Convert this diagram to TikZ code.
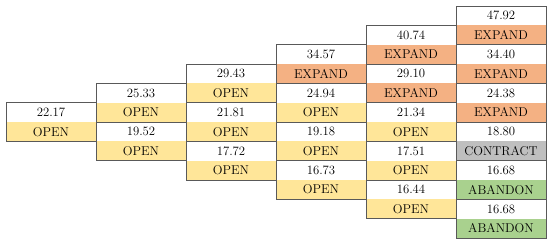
\documentclass[tikz,border=0pt]{standalone}
\usepackage{xcolor}
\usepackage{tikz}
\usetikzlibrary{positioning}

\definecolor{openyellow}{HTML}{FFE699}
\definecolor{expandorange}{HTML}{F4B183}
\definecolor{contractgrey}{HTML}{BFBFBF}
\definecolor{abandongreen}{HTML}{A9D18E}

\begin{document}
\begin{tikzpicture}[x=1bp, y=1bp,
    cell/.style={rectangle, minimum width=90bp, minimum height=19.33bp,
        inner sep=0pt, outer sep=0pt, text=black,
        font=\fontsize{12.8}{15}\selectfont},
    val/.style={cell, fill=white},
    isopen/.style={cell, fill=openyellow},
    isexpand/.style={cell, fill=expandorange},
    iscontract/.style={cell, fill=contractgrey},
    isabandon/.style={cell, fill=abandongreen},
    frame/.style={draw=black!65, line width=0.8bp}]
    \useasboundingbox (0,0) rectangle (550,-246);

    % Nút của cây: giá trị và quyết định
    \foreach \c/\i/\v/\d/\s in {
        0/0/22.17/OPEN/isopen,
        1/0/25.33/OPEN/isopen, 1/1/19.52/OPEN/isopen,
        2/0/29.43/OPEN/isopen, 2/1/21.81/OPEN/isopen, 2/2/17.72/OPEN/isopen,
        3/0/34.57/EXPAND/isexpand, 3/1/24.94/OPEN/isopen,
        3/2/19.18/OPEN/isopen, 3/3/16.73/OPEN/isopen,
        4/0/40.74/EXPAND/isexpand, 4/1/29.10/EXPAND/isexpand,
        4/2/21.34/OPEN/isopen, 4/3/17.51/OPEN/isopen, 4/4/16.44/OPEN/isopen,
        5/0/47.92/EXPAND/isexpand, 5/1/34.40/EXPAND/isexpand,
        5/2/24.38/EXPAND/isexpand, 5/3/18.80/CONTRACT/iscontract,
        5/4/16.68/ABANDON/isabandon, 5/5/16.68/ABANDON/isabandon} {
        \node[val, anchor=north west] (v\c\i)
            at ({6+90*\c}, {-6-19.33*(5-\c+2*\i)}) {\v};
        \node[\s, below=0pt of v\c\i] (d\c\i) {\d};
        \draw[frame] (v\c\i.north west) rectangle (d\c\i.south east);
    }
\end{tikzpicture}
\end{document}
